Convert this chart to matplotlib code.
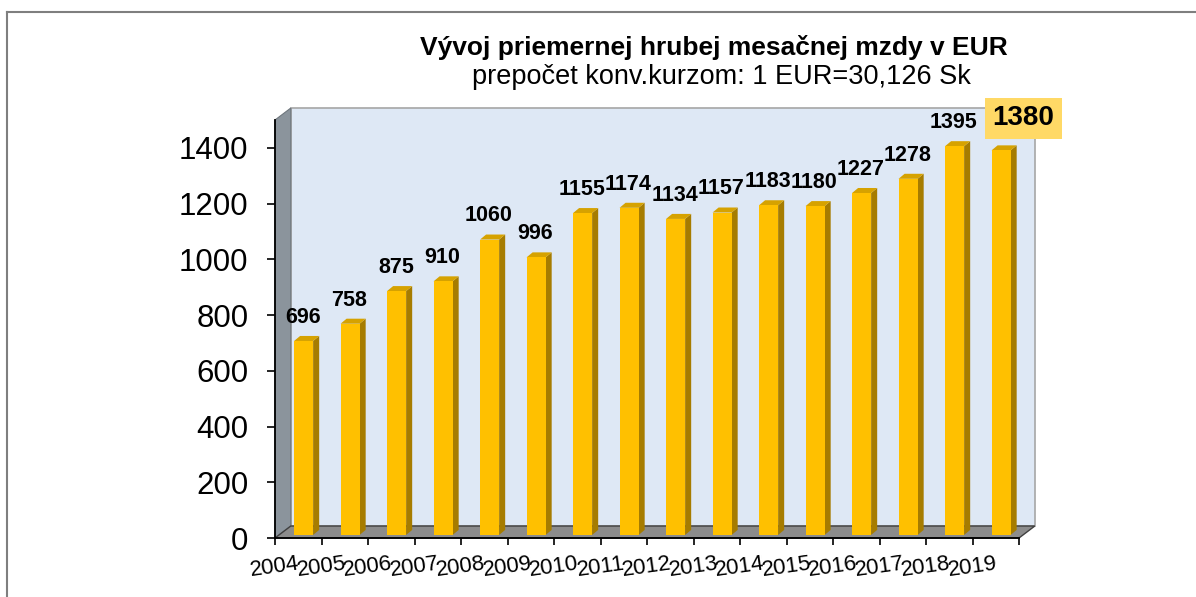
import numpy as np
import matplotlib
matplotlib.use("Agg")
import matplotlib.pyplot as plt
from matplotlib.patches import Polygon, Rectangle
from matplotlib.lines import Line2D

plt.rcParams['font.family'] = ['Liberation Sans', 'DejaVu Sans']

# data
years = ['2004', '2005', '2006', '2007', '2008', '2009', '2010', '2011',
         '2012', '2013', '2014', '2015', '2016', '2017', '2018', '2019']
wages = [696, 758, 875, 910, 1060, 996, 1155, 1174,
         1134, 1157, 1183, 1180, 1227, 1278, 1395, 1380]
yticks = [0, 200, 400, 600, 800, 1000, 1200, 1400]

title = 'Vývoj priemernej hrubej mesačnej mzdy v EUR'
subtitle = 'prepočet konv.kurzom: 1 EUR=30,126 Sk'

fig = plt.figure(figsize=(11.96, 5.97), dpi=100)
ax = fig.add_axes([275 / 1196, 59 / 597, 744 / 1196, 418 / 597])
n = len(wages)
ax.set_xlim(-0.5, n - 0.5)
ax.set_ylim(0, 1500)

# 3D-ish depth offsets (data units)
dx, dy = 0.34, 43

# back wall, side wall, floor
ax.add_patch(Rectangle((-0.5 + dx, dy), n, 1500, facecolor='#DEE8F5',
                       edgecolor='#A6A6A6', lw=1.2, clip_on=False, zorder=0))
ax.add_patch(Polygon([(-0.5, 0), (-0.5, 1500), (-0.5 + dx, 1500 + dy), (-0.5 + dx, dy)],
                     closed=True, facecolor='#8B949C', edgecolor='#6E767D', lw=0.8,
                     clip_on=False, zorder=1))
ax.add_patch(Polygon([(-0.5, 0), (n - 0.5, 0), (n - 0.5 + dx, dy), (-0.5 + dx, dy)],
                     closed=True, facecolor='#8C8C8C', edgecolor='#404040', lw=1.0,
                     clip_on=False, zorder=1))

# bars: front, side, top faces
bw, off, base = 0.41, -0.09, 11
sdx, sdy = 0.13, 18
for i, v in enumerate(wages):
    x0 = i + off
    x1 = x0 + bw
    top = v + base
    ax.add_patch(Polygon([(x1, base), (x1 + sdx, base + sdy), (x1 + sdx, top + sdy), (x1, top)],
                         closed=True, facecolor='#A67C00', edgecolor='none', zorder=3))
    ax.add_patch(Polygon([(x0, top), (x0 + sdx, top + sdy), (x1 + sdx, top + sdy), (x1, top)],
                         closed=True, facecolor='#D6A200', edgecolor='none', zorder=3))
    ax.add_patch(Rectangle((x0, base), bw, v, facecolor='#FFC000',
                           edgecolor='none', zorder=4))
    if i < n - 1:
        ax.annotate(str(v), xy=(i + 0.1, top), xytext=(0, 17), textcoords='offset points',
                    ha='center', va='center', fontsize=15.5, fontweight='bold', zorder=6)
    else:
        ax.annotate(str(v), xy=(i, top), xytext=(20, 23), textcoords='offset points',
                    ha='center', va='center', fontsize=20, fontweight='bold', zorder=6,
                    annotation_clip=False,
                    bbox=dict(boxstyle='square,pad=0.28', facecolor='#FFD966', edgecolor='none'))

# axes styling
for s in ['top', 'right']:
    ax.spines[s].set_visible(False)
ax.spines['left'].set_linewidth(1.3)
ax.spines['bottom'].set_linewidth(1.3)
ax.spines['left'].set_zorder(5)
ax.spines['bottom'].set_zorder(5)
ax.patch.set_visible(False)

ax.set_yticks(yticks)
ax.set_yticklabels([str(t) for t in yticks], fontsize=22.5)
ax.tick_params(axis='y', length=6, width=1.2, pad=13)

ax.set_xticks(np.arange(n + 1) - 0.5)
ax.set_xticklabels(years + [''], fontsize=16, rotation=8, ha='center')
ax.tick_params(axis='x', length=5, width=1.2, pad=6)

fig.text(0.597, 1 - 48 / 597, title, ha='center', va='center',
         fontsize=19, fontweight='bold')
fig.text(0.603, 1 - 77 / 597, subtitle, ha='center', va='center', fontsize=19.5)

# outer frame (only top and left visible)
fig.add_artist(Line2D([7 / 1196, 1.0], [1 - 12 / 597, 1 - 12 / 597],
                      transform=fig.transFigure, color='#7F7F7F', lw=1.5))
fig.add_artist(Line2D([7 / 1196, 7 / 1196], [0, 1 - 12 / 597],
                      transform=fig.transFigure, color='#7F7F7F', lw=1.5))

fig.savefig('out.png', dpi=100)
